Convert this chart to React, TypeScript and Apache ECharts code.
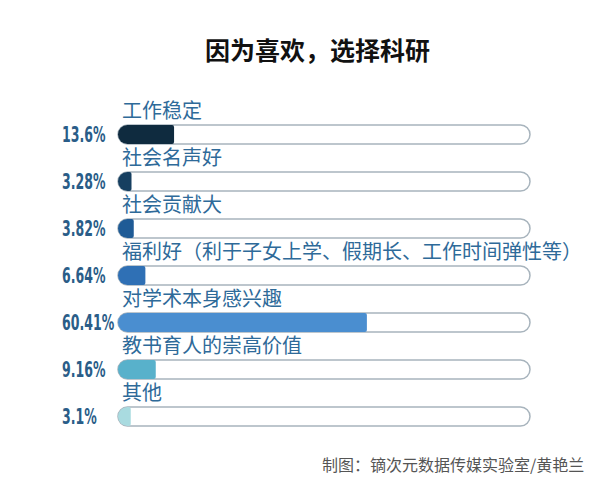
import React, { useEffect, useRef } from "react";
import * as echarts from "echarts";

const categories = [
  "工作稳定",
  "社会名声好",
  "社会贡献大",
  "福利好（利于子女上学、假期长、工作时间弹性等）",
  "对学术本身感兴趣",
  "教书育人的崇高价值",
  "其他",
];
const values = [13.6, 3.28, 3.82, 6.64, 60.41, 9.16, 3.1];
const barColors = ["#0f2b3f", "#163f60", "#1f5b96", "#2f70b5", "#4a8ed0", "#58b1cb", "#a9dbe0"];
const titleText = "因为喜欢，选择科研";
const footerText = "制图：镝次元数据传媒实验室/黄艳兰";

export default function App() {
  const ref = useRef<HTMLDivElement>(null);
  useEffect(() => {
    if (!ref.current) return;
    const chart = echarts.init(ref.current, null, { renderer: "svg" });
    chart.setOption({
      animation: false,
      backgroundColor: "#ffffff",
      title: {
        text: titleText,
        left: 200,
        top: 31,
        textStyle: {
          fontSize: 25,
          fontWeight: "bold",
          color: "#111111",
          fontFamily: "'Noto Sans CJK SC', sans-serif",
        },
      },
      grid: { left: 118, right: 70, top: 111, bottom: 54 },
      xAxis: { type: "value", min: 0, max: 100, show: false },
      yAxis: {
        type: "category",
        inverse: true,
        data: categories,
        axisLine: { show: false },
        axisTick: { show: false },
        axisLabel: { show: false },
      },
      series: [
        {
          type: "bar",
          barWidth: 19,
          showBackground: true,
          backgroundStyle: {
            color: "#ffffff",
            borderColor: "#a8b4bd",
            borderWidth: 1.5,
            borderRadius: 9.5,
          },
          data: values.map((v, i) => ({
            value: v,
            itemStyle: { color: barColors[i], borderRadius: [9.5, 2, 2, 9.5] },
          })),
          label: {
            show: true,
            position: [4, -16],
            align: "left",
            verticalAlign: "middle",
            formatter: "{b}",
            fontSize: 20,
            color: "#2e6a99",
            fontFamily: "'Noto Sans CJK SC', sans-serif",
          },
        },
      ],
    });
    const pctTexts = values.map((v, i) => {
      const y = chart.convertToPixel({ yAxisIndex: 0 }, i) as number;
      return {
        type: "text",
        x: 62,
        y: y,
        scaleX: 0.57,
        style: {
          text: String(v) + "%",
          fontSize: 22,
          fontWeight: "bold",
          fill: "#2a5d88",
          fontFamily: "'DejaVu Sans', sans-serif",
          verticalAlign: "middle",
          align: "left",
        },
      };
    });
    chart.setOption({
      graphic: [
        {
          type: "text",
          left: 322,
          top: 456,
          style: {
            text: footerText,
            fontSize: 16,
            fill: "#555555",
            fontFamily: "'Noto Sans CJK SC', sans-serif",
          },
        },
        ...pctTexts,
      ],
    });
    return () => chart.dispose();
  }, []);
  return <div ref={ref} style={{ width: 600, height: 494, margin: -8 }} />;
}
